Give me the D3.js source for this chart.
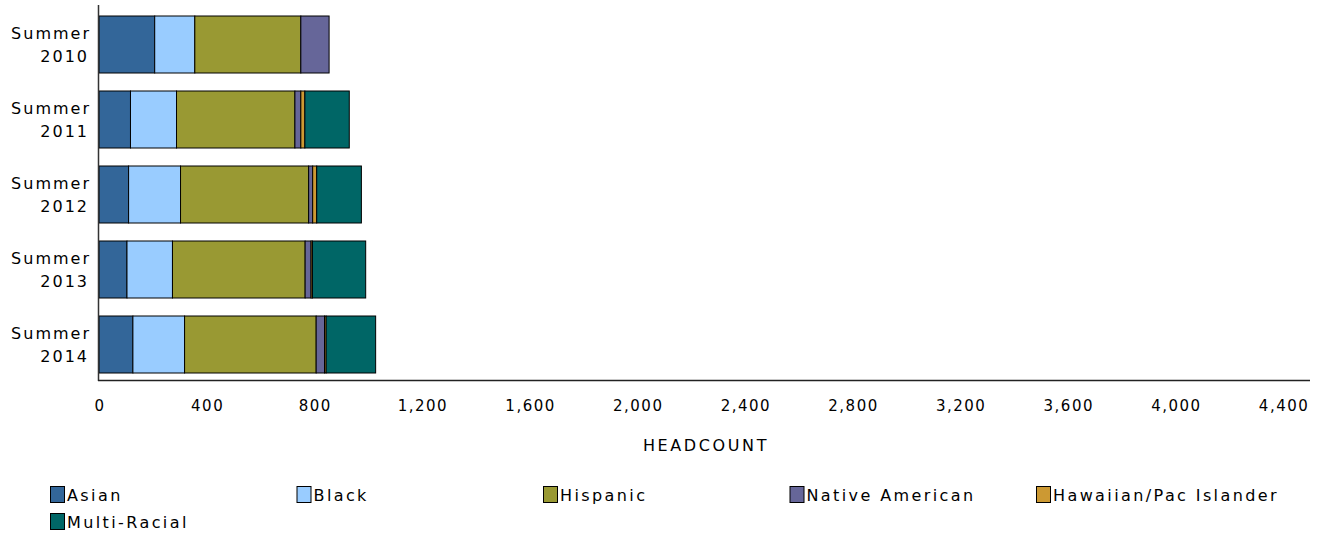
<!DOCTYPE html>
<html>
<head>
<meta charset="utf-8">
<script src="https://cdn.jsdelivr.net/npm/d3@7"></script>
<style>
  body { margin: 0; background: #fff; }
  text { font-family: "DejaVu Sans", sans-serif; fill: #000; }
</style>
</head>
<body>
<svg id="chart" width="1323" height="535"></svg>
<script>
// terms shown on the y axis
var terms = ['Summer 2010', 'Summer 2011', 'Summer 2012', 'Summer 2013', 'Summer 2014'];
var groups = ['Asian', 'Black', 'Hispanic', 'Native American', 'Hawaiian/Pac Islander', 'Multi-Racial'];
var colors = ['#336699', '#99ccff', '#999933', '#666699', '#cc9933', '#006666'];

// headcount per group, one value per term
var asian = [207, 117, 110, 104, 126];
var black = [149, 171, 193, 169, 192];
var hispanic = [394, 440, 476, 493, 489];
var nativeAmerican = [105, 22, 15, 22, 31];
var hawaiian = [0, 15, 15, 5, 6];
var multiRacial = [0, 165, 166, 198, 184];

var xTicks = [0, 400, 800, 1200, 1600, 2000, 2400, 2800, 3200, 3600, 4000, 4400];

var series = [asian, black, hispanic, nativeAmerican, hawaiian, multiRacial];

var rows = terms.map(function(t, i) {
  var r = { term: t };
  groups.forEach(function(g, j) { r[g] = series[j][i]; });
  return r;
});

var svg = d3.select('#chart');

var x = d3.scaleLinear()
  .domain([0, 4500])
  .range([99, 1310]);

var y = d3.scaleBand()
  .domain(terms)
  .range([7, 382])
  .paddingInner(0.24)
  .paddingOuter(0.12);

var stack = d3.stack().keys(groups);
var layers = stack(rows);

var g = svg.append('g');

layers.forEach(function(layer, j) {
  g.selectAll('rect.s' + j)
    .data(layer)
  .enter().append('rect')
    .attr('class', 's' + j)
    .attr('x', function(d) { return x(d[0]); })
    .attr('y', function(d) { return y(d.data.term); })
    .attr('width', function(d) { return x(d[1]) - x(d[0]); })
    .attr('height', y.bandwidth())
    .attr('fill', colors[j])
    .attr('stroke', '#000')
    .attr('stroke-width', 1)
    .style('display', function(d) { return d[1] - d[0] > 0 ? null : 'none'; });
});

// axis lines
svg.append('line')
  .attr('x1', 98.5).attr('x2', 98.5)
  .attr('y1', 5).attr('y2', 381)
  .attr('stroke', '#333').attr('stroke-width', 1.5);
svg.append('line')
  .attr('x1', 98).attr('x2', 1310)
  .attr('y1', 380.5).attr('y2', 380.5)
  .attr('stroke', '#222').attr('stroke-width', 1.5);

// x tick labels
svg.selectAll('text.xtick')
  .data(xTicks)
.enter().append('text')
  .attr('class', 'xtick')
  .attr('x', function(d) { return x(d) + 1; })
  .attr('y', 410.5)
  .attr('text-anchor', 'middle')
  .style('font-size', '15px')
  .style('letter-spacing', '1.5px')
  .text(d3.format(','));

// y category labels
var cat = svg.selectAll('text.ycat')
  .data(terms)
.enter().append('text')
  .attr('class', 'ycat')
  .attr('text-anchor', 'end')
  .style('font-size', '16px')
  .style('letter-spacing', '2px');
cat.append('tspan')
  .attr('x', 91)
  .attr('y', function(d) { return y(d) + y.bandwidth() / 2 - 6; })
  .text(function(d) { return d.split(' ')[0]; });
cat.append('tspan')
  .attr('x', 89)
  .attr('y', function(d) { return y(d) + y.bandwidth() / 2 + 17; })
  .text(function(d) { return d.split(' ')[1]; });

svg.append('text')
  .attr('x', 706)
  .attr('y', 451)
  .attr('text-anchor', 'middle')
  .style('font-size', '16px')
  .style('letter-spacing', '2.6px')
  .text('HEADCOUNT');

// legend, five per row
var legend = svg.selectAll('g.legend')
  .data(groups)
.enter().append('g')
  .attr('class', 'legend')
  .attr('transform', function(d, i) {
    return 'translate(' + (50 + (i % 5) * 246.5) + ',' + (486 + Math.floor(i / 5) * 27) + ')';
  });
legend.append('rect')
  .attr('x', 0.5).attr('y', 0.5)
  .attr('width', 14).attr('height', 16)
  .attr('fill', function(d, i) { return colors[i]; })
  .attr('stroke', '#000');
legend.append('text')
  .attr('x', 17)
  .attr('y', 14.5)
  .style('font-size', '16px')
  .style('letter-spacing', '2.4px')
  .text(function(d) { return d; });
</script>
</body>
</html>
